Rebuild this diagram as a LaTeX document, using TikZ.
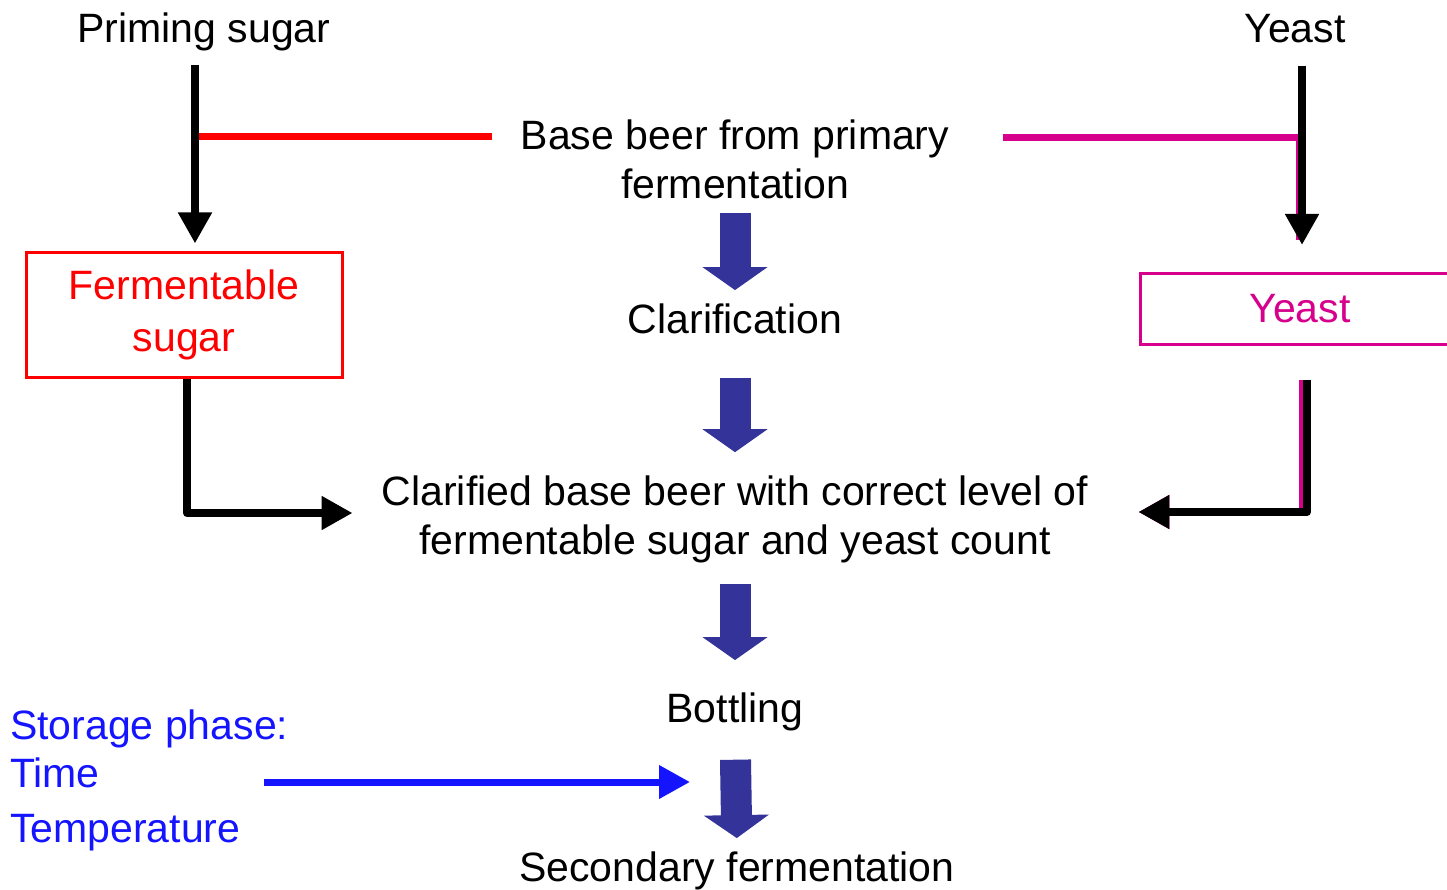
\documentclass[tikz,border=0pt]{standalone}
\usepackage{fontspec}
\setmainfont{Liberation Sans}
\usetikzlibrary{arrows.meta}
\definecolor{sugarred}{RGB}{255,0,0}
\definecolor{yeastpink}{RGB}{214,0,140}
\definecolor{stepblue}{RGB}{51,51,153}
\definecolor{storeblue}{RGB}{20,20,255}
\tikzset{
        every node/.style={inner sep=0pt, font=\fontsize{41}{49}\selectfont}, % big sans text everywhere
        txt/.style={anchor=base, align=center}, % plain text, placed by its baseline
        sugarbox/.style={draw=sugarred, text=sugarred, line width=3pt, minimum width=316pt, minimum height=124pt, align=center, font=\fontsize{41}{52}\selectfont},
        yeastbox/.style={draw=yeastpink, text=yeastpink, line width=3pt, minimum width=320pt, minimum height=71pt},
        feed/.style={line width=8pt, line join=round, -{Triangle[width=32pt,length=31pt]}}, % black input arrows
        sugarline/.style={sugarred, line width=7pt},
        yeastline/.style={yeastpink, line width=7pt},
        bigstep/.style={stepblue, line width=31pt, -{Triangle[width=64pt,length=23pt]}}, % block arrows of the main line
        storearrow/.style={storeblue, line width=7pt, -{Triangle[width=32pt,length=31pt]}},
    }
\begin{document}
\begin{tikzpicture}[x=1pt, y=-1pt]
    \useasboundingbox (0,0) rectangle (1447,890);
    % inputs
    \node[txt] (prim) at (204,43) {Priming sugar};
    \node[txt] (yst) at (1295,43) {Yeast};
    \node[align=center] (base) at (735,159) {Base beer from primary\\fermentation};
    \node[sugarbox] (ferm) at (184,315) {Fermentable\\sugar};
    \node[yeastbox] (ybox) at (1300,309) {Yeast};
    % main line
    \node[txt] (clar) at (735,333) {Clarification};
    \node[align=center] (mix) at (735,519) {Clarified base beer with correct level of\\fermentable sugar and yeast count};
    \node[txt] (bott) at (735,722) {Bottling};
    \node[txt] (sec) at (737,881) {Secondary fermentation};
    % storage
    \node[anchor=base west, text=storeblue] (stor) at (10,739) {Storage phase:};
    \node[anchor=base west, text=storeblue] (time) at (10,787) {Time};
    \node[anchor=base west, text=storeblue] (temp) at (10,842) {Temperature};
    \coordinate (lj) at (195,137);
    \coordinate (rj) at (1302,138);
    \coordinate (sf) at (736,782);

    \draw[sugarline, shorten >=29pt] (lj) -- (lj -| base.west);
    \draw[yeastline, shorten <=54pt, shorten >=32pt] (rj -| base.east) -- ([xshift=-3pt]rj) -- ([xshift=-3pt]rj |- ybox.north);
    \draw[feed, shorten <=13pt, shorten >=8pt] (lj |- prim.south) -- (lj |- ferm.north);
    \draw[feed, shorten <=22pt, shorten >=27pt] (rj |- yst.south) -- (rj |- ybox.north);
    \draw[feed, shorten >=29pt] ([xshift=3pt]ferm.south) |- ([yshift=6pt]mix.west);
    \draw[feed, yeastpink, shorten <=34pt, shorten >=54pt] ([xshift=3pt]ybox.south) |- ([xshift=-4pt, yshift=7pt]mix.east);
    \draw[feed, shorten <=34pt, shorten >=50pt] ([xshift=7pt]ybox.south) |- ([yshift=7pt]mix.east);

    \draw[bigstep, shorten <=14pt, shorten >=13pt] (base.south) -- (clar.north);
    \draw[bigstep, shorten <=44pt, shorten >=23pt] (clar.south) -- (mix.north);
    \draw[bigstep, shorten <=21pt, shorten >=32pt] (mix.south) -- (bott.north);
    \draw[bigstep, shorten <=29pt, shorten >=13pt] (bott.south) -- (sec.north);
    \draw[storearrow, shorten <=164pt, shorten >=46pt] (time.east |- sf) -- (sf);
\end{tikzpicture}
\end{document}
